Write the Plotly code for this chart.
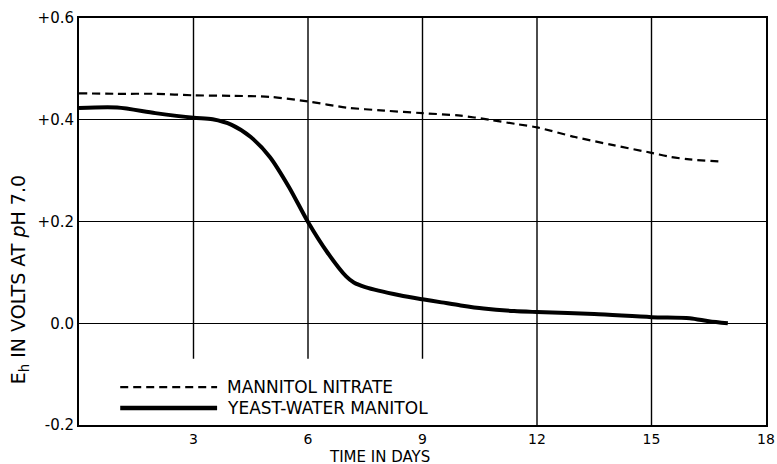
import plotly.graph_objects as go

# Data
days_nitrate = [0, 1, 2, 3, 4, 5, 6, 7, 8, 9, 10, 10.75, 11.5, 12, 13, 14, 15, 15.5, 16, 16.8]
eh_nitrate = [0.452, 0.451, 0.451, 0.448, 0.447, 0.445, 0.436, 0.424, 0.418, 0.413,
              0.408, 0.400, 0.391, 0.385, 0.366, 0.350, 0.335, 0.327, 0.322, 0.318]

days_yeast = [0, 1, 2, 3, 3.5, 4, 4.5, 5, 5.5, 6, 6.5, 7, 7.2, 7.5, 8.4, 9, 9.5, 10, 10.6,
              11.4, 12, 13.5, 15, 16, 16.5, 17]
eh_yeast = [0.423, 0.424, 0.413, 0.404, 0.401, 0.390, 0.366, 0.327, 0.268, 0.199, 0.140,
            0.092, 0.080, 0.071, 0.055, 0.047, 0.041, 0.035, 0.029, 0.024, 0.022, 0.018,
            0.012, 0.010, 0.004, 0.0]

x_ticks = [3, 6, 9, 12, 15, 18]
y_ticks = [-0.2, 0.0, 0.2, 0.4, 0.6]
y_ticktext = ["-0.2", "0.0", "+0.2", "+0.4", "+0.6"]
series_names = ["MANNITOL NITRATE", "YEAST-WATER MANITOL"]

FONT = "DejaVu Sans"
DASH = "8px,5px"

fig = go.Figure()
fig.add_trace(go.Scatter(x=days_nitrate, y=eh_nitrate, mode="lines", name=series_names[0],
                         line=dict(color="black", width=2.2, dash=DASH, shape="spline", smoothing=0.8),
                         showlegend=False))
fig.add_trace(go.Scatter(x=days_yeast, y=eh_yeast, mode="lines", name=series_names[1],
                         line=dict(color="black", width=4, shape="spline", smoothing=0.8),
                         showlegend=False))

# vertical grid lines (the first three stop above the legend)
for xv in x_ticks[:-1]:
    y0 = -0.07 if xv <= 9 else -0.2
    fig.add_shape(type="line", xref="x", yref="y", x0=xv, x1=xv, y0=y0, y1=0.6,
                  line=dict(color="black", width=1.4), layer="below")

# custom legend
legend_rows = [(0.093, DASH, 2.2), (0.042, "solid", 4.5)]
for (yp, dash, w), name in zip(legend_rows, series_names):
    fig.add_shape(type="line", xref="paper", yref="paper", x0=0.060, x1=0.201, y0=yp, y1=yp,
                  line=dict(color="black", width=w, dash=dash))
    fig.add_annotation(xref="paper", yref="paper", x=0.212, y=yp, text=name, showarrow=False,
                       xanchor="left", yanchor="middle",
                       font=dict(family=FONT, size=17, color="black"))

fig.add_annotation(xref="paper", yref="paper", x=0.438, y=-0.078, text="TIME IN DAYS",
                   showarrow=False, xanchor="center", yanchor="middle",
                   font=dict(family=FONT, size=15, color="black"))

fig.add_annotation(xref="paper", yref="paper", x=-0.087, y=0.356,
                   text="E<sub>h</sub> IN VOLTS AT <i>p</i>H 7.0",
                   showarrow=False, textangle=-90, xanchor="center", yanchor="middle",
                   font=dict(family=FONT, size=19, color="black"))

fig.update_layout(
    width=777, height=464,
    margin=dict(l=79, r=11, t=18, b=39),
    paper_bgcolor="white", plot_bgcolor="white",
    font=dict(family=FONT, size=15, color="black"),
    xaxis=dict(range=[0, 18], tickvals=x_ticks, showgrid=False, zeroline=False,
               showline=True, linecolor="black", linewidth=2, mirror=True,
               ticks="", automargin=False,
               tickfont=dict(family=FONT, size=14)),
    yaxis=dict(range=[-0.2, 0.6], tickvals=y_ticks, ticktext=y_ticktext,
               showgrid=True, gridcolor="black", gridwidth=1.4, zeroline=False,
               showline=True, linecolor="black", linewidth=2, mirror=True,
               ticks="", automargin=False, tickfont=dict(family=FONT, size=15)),
)

# remove the default 8px page margin so the figure fills the window exactly
fig.write_html("out.html", config={"displayModeBar": False},
               post_script="document.body.style.margin='0px';")
